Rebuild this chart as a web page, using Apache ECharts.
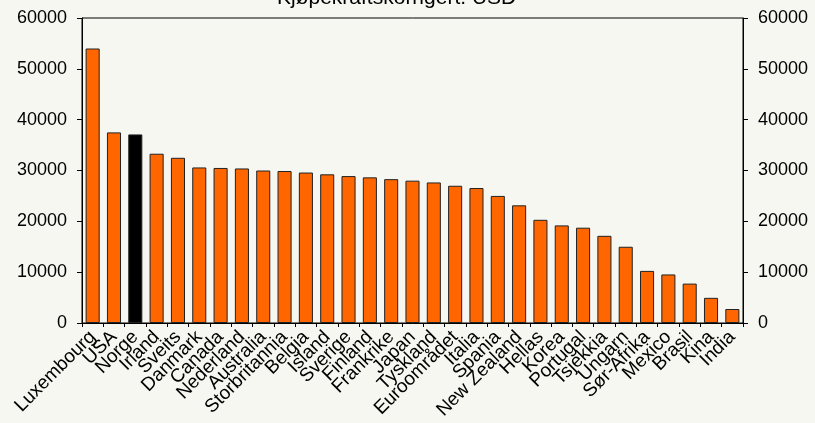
<!DOCTYPE html>
<html>
<head>
<meta charset="utf-8">
<script src="https://cdn.jsdelivr.net/npm/echarts@6/dist/echarts.min.js"></script>
<style>
  html, body { margin: 0; padding: 0; background: #f7f7f2; }
  #chart { width: 815px; height: 423px; }
</style>
</head>
<body>
<div id="chart"></div>
<script>
  // BNP per innbygger, kjøpekraftskorrigert (USD)
  const countries = ['Luxembourg', 'USA', 'Norge', 'Irland', 'Sveits', 'Danmark', 'Canada', 'Nederland',
    'Australia', 'Storbritannia', 'Belgia', 'Island', 'Sverige', 'Finland', 'Frankrike', 'Japan',
    'Tyskland', 'Euroområdet', 'Italia', 'Spania', 'New Zealand', 'Hellas', 'Korea', 'Portugal',
    'Tsjekkia', 'Ungarn', 'Sør-Afrika', 'Mexico', 'Brasil', 'Kina', 'India']
  const values = [54000, 37500, 37100, 33300, 32500, 30600, 30500, 30400,
    30000, 29900, 29600, 29250, 28900, 28650, 28300, 28000,
    27650, 27000, 26550, 25000, 23150, 20300, 19200, 18750,
    17150, 15000, 10250, 9550, 7750, 4950, 2750]
  const highlighted = ['Norge']
  const yTicks = [0, 10000, 20000, 30000, 40000, 50000, 60000]

  const font = 'Liberation Sans, Arial, sans-serif'
  const mychart = echarts.init(document.getElementById('chart'))

  const yAxisBase = {
    type: 'value',
    min: yTicks[0],
    max: yTicks[yTicks.length - 1],
    interval: yTicks[1] - yTicks[0],
    splitLine: { show: false },
    axisLine: { show: true, lineStyle: { color: '#000', width: 1 } },
    axisTick: { show: true, length: 5, lineStyle: { color: '#000' } },
    axisLabel: {
      fontFamily: font, fontSize: 18, color: '#000', margin: 15,
      formatter: v => String(v) // ingen tusenskille
    }
  }

  mychart.setOption({
    backgroundColor: '#f7f7f2',
    animation: false,
    title: {
      text: 'Kjøpekraftskorrigert. USD',
      left: 277,
      top: -12,
      padding: 0,
      textStyle: { fontFamily: font, fontSize: 21, fontWeight: 'normal', color: '#000' }
    },
    grid: {
      left: 82, right: 72, top: 18, bottom: 100,
      show: true, borderColor: '#000', borderWidth: 1, backgroundColor: 'transparent'
    },
    xAxis: {
      type: 'category',
      data: countries,
      axisLine: { show: true, lineStyle: { color: '#000' } },
      axisTick: { show: true, length: 4, alignWithLabel: false, lineStyle: { color: '#000' } },
      axisLabel: {
        interval: 0, rotate: 45, fontFamily: font, fontSize: 19, color: '#000', margin: 11
      }
    },
    yAxis: [
      Object.assign({}, yAxisBase, { position: 'left' }),
      Object.assign({}, yAxisBase, { position: 'right' })
    ],
    series: [{
      type: 'bar',
      yAxisIndex: 0,
      barCategoryGap: '34%',
      itemStyle: { borderColor: '#222', borderWidth: 1 },
      data: values.map((v, i) => ({
        value: v,
        itemStyle: { color: highlighted.includes(countries[i]) ? '#000000' : '#ff6600' }
      }))
    }]
  })
</script>
</body>
</html>
